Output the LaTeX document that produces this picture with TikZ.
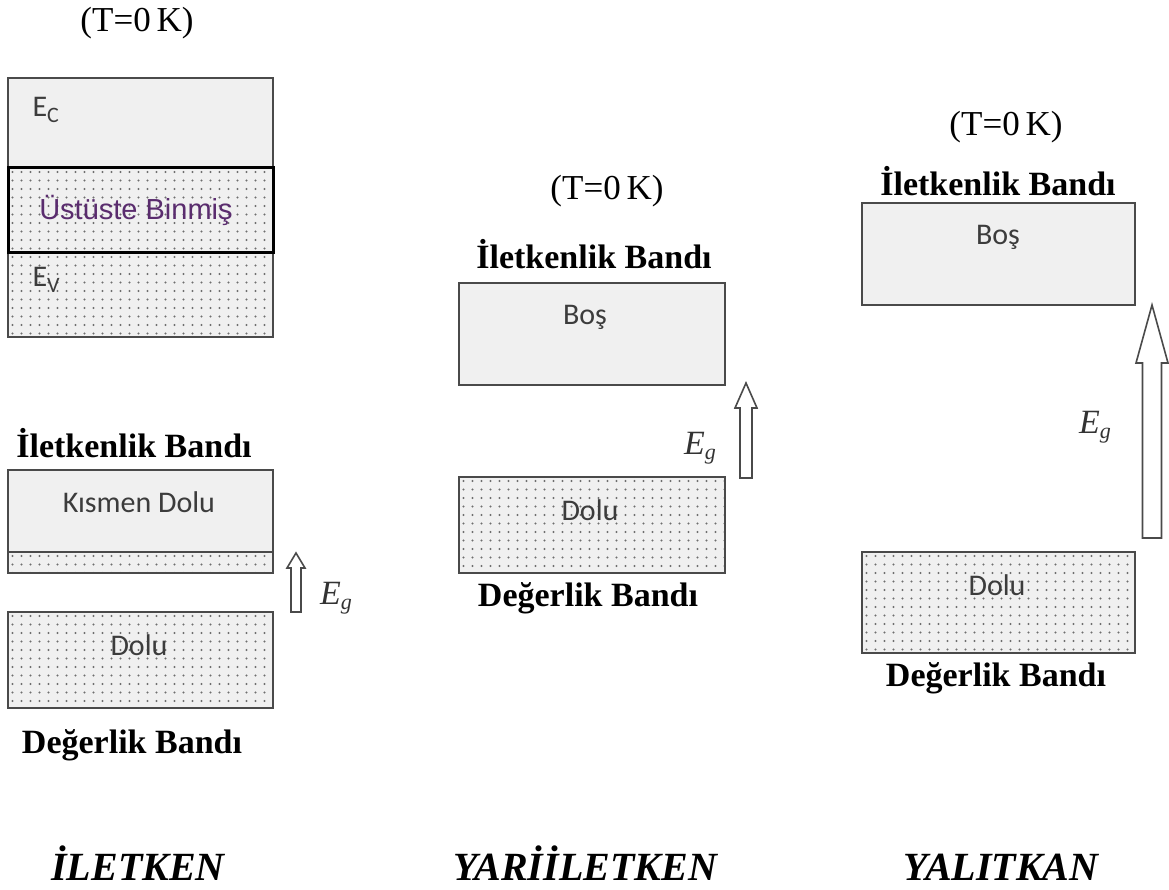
\documentclass[tikz,border=0pt]{standalone}
\usepackage{fontspec}
\setmainfont{Liberation Serif}
\newfontfamily\bandfont{Carlito}
\newfontfamily\mixfont{Liberation Sans}
\definecolor{bandfill}{HTML}{F0F0F0}
\definecolor{bandline}{HTML}{4A4A4A}
\definecolor{dotcol}{HTML}{6E6E6E}
\definecolor{bandtext}{HTML}{3C3C3C}
\definecolor{mixtext}{HTML}{5A2C6E}
\newcommand\gapE{\textit{E}\raisebox{-0.35ex}{\fontsize{22}{22}\selectfont\textit{g}}}
\begin{document}
\begin{tikzpicture}[x=1pt,y=-1pt,
  band/.style={draw=bandline, line width=2.4pt, fill=bandfill, anchor=north west,
    inner sep=0pt, outer sep=0pt},
  dotted band/.style={band, path picture={
      \foreach \px in {4.5,13.5,...,300}
        \foreach \py in {4,12.5,...,200}
          \fill[dotcol] (path picture bounding box.north west) ++(\px,\py) circle (1.2pt);}},
  temp/.style={font=\fontsize{35}{38}\selectfont},
  bandname/.style={font=\fontsize{34}{38}\selectfont\bfseries},
  inlabel/.style={font=\fontsize{30}{34}\selectfont\bandfont, text=bandtext},
  gaplabel/.style={font=\fontsize{34}{38}\selectfont, text=black!80},
  kind/.style={font=\fontsize{40}{44}\selectfont\bfseries\itshape, anchor=base},
  hollow arrow/.style={draw=bandline, line width=1.6pt, fill=white, line join=miter}
]
\useasboundingbox (0,0) rectangle (1169,890);

% ---------------- conductor ----------------
\node[temp] (tA) at (137,23) {(T=0\,K)};
\node[band, minimum width=265, minimum height=90] (ecband) at (8,78) {};
\node[dotted band, minimum width=265, minimum height=84] (evband) at (8,253) {};
\node[dotted band, draw=black, line width=3pt, minimum width=265, minimum height=85] (overlap) at (8,168) {};
\node[inlabel, anchor=west] (ec) at (29,110) {E\raisebox{-0.4ex}{\fontsize{22}{22}\selectfont C}};
\node[inlabel, anchor=west] (ev) at (29,280) {E\raisebox{-0.4ex}{\fontsize{22}{22}\selectfont V}};
\node[font=\fontsize{29}{32}\selectfont\mixfont, text=mixtext] (mixlbl) at (136,210) {Üstüste Binmiş};

\node[bandname] (cbA) at (134,443) {İletkenlik Bandı};
\node[dotted band, minimum width=265, minimum height=21] (kfill) at (8,552) {};
\node[band, minimum width=265, minimum height=82] (kband) at (8,470) {};
\node[inlabel] (klbl) at (139,502) {Kısmen Dolu};
\node[dotted band, minimum width=265, minimum height=96] (vA) at (8,612) {};
\node[inlabel] (vAlbl) at (139,645) {Dolu};
\node[bandname] (vbA) at (132,745) {Değerlik Bandı};

\coordinate (aA) at (296,553);
\draw[hollow arrow] (aA) -- ++(9,15) -- ++(-4,0) -- ++(0,44) -- ++(-10,0) -- ++(0,-44) -- ++(-4,0) -- cycle;
\node[gaplabel] (gA) at (336,598) {\gapE};

\node[kind] (kA) at (138,880) {İLETKEN};

% ---------------- semiconductor ----------------
\node[temp] (tB) at (607,191) {(T=0\,K)};
\node[bandname] (cbB) at (594,254) {İletkenlik Bandı};
\node[band, minimum width=266, minimum height=102] (cB) at (459,283) {};
\node[inlabel] (cBlbl) at (585,317) {Boş};
\node[dotted band, minimum width=266, minimum height=96] (vB) at (459,477) {};
\node[inlabel] (vBlbl) at (590,510) {Dolu};
\node[bandname] (vbB) at (588,598) {Değerlik Bandı};

\coordinate (aB) at (746,383);
\draw[hollow arrow] (aB) -- ++(11,25) -- ++(-5,0) -- ++(0,70) -- ++(-12,0) -- ++(0,-70) -- ++(-5,0) -- cycle;
\node[gaplabel] (gB) at (700,448) {\gapE};

\node[kind] (kB) at (585,880) {YARİİLETKEN};

% ---------------- insulator ----------------
\node[temp] (tC) at (1006,127) {(T=0\,K)};
\node[bandname] (cbC) at (998,181) {İletkenlik Bandı};
\node[band, minimum width=273, minimum height=102] (cC) at (862,203) {};
\node[inlabel] (cClbl) at (998,237) {Boş};
\node[dotted band, minimum width=273, minimum height=101] (vC) at (862,552) {};
\node[inlabel] (vClbl) at (997,585) {Dolu};
\node[bandname] (vbC) at (996,678) {Değerlik Bandı};

\coordinate (aC) at (1152,305);
\draw[hollow arrow] (aC) -- ++(16,58) -- ++(-6.5,0) -- ++(0,175) -- ++(-19,0) -- ++(0,-175) -- ++(-6.5,0) -- cycle;
\node[gaplabel] (gC) at (1095,427) {\gapE};

\node[kind] (kC) at (1001,880) {YALITKAN};
\end{tikzpicture}
\end{document}
